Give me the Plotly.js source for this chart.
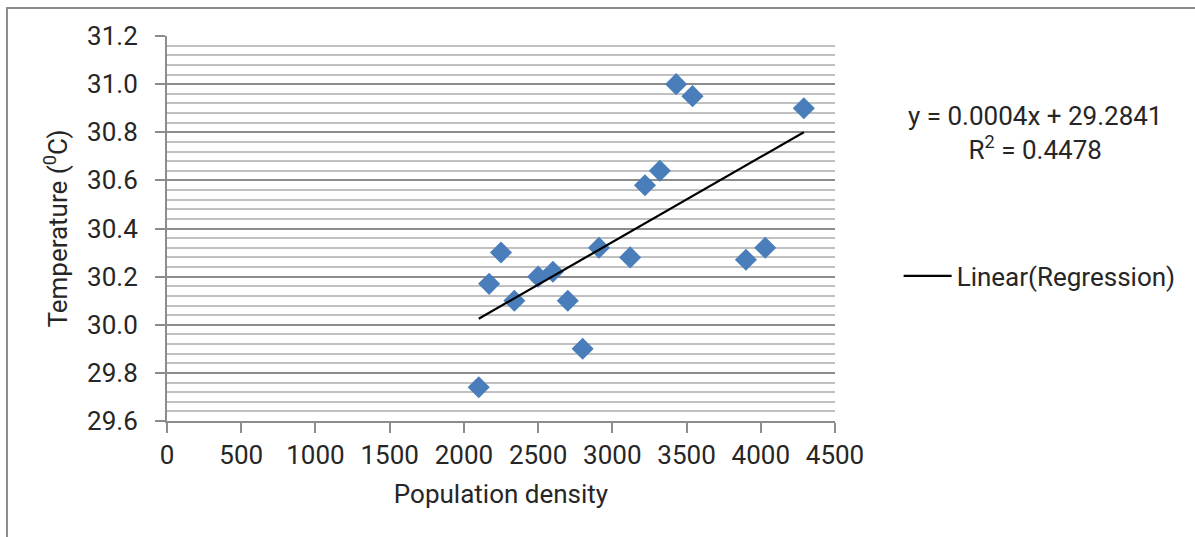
<!DOCTYPE html>
<html>
<head>
<meta charset="utf-8">
<script src="https://cdn.plot.ly/plotly-3.0.1.min.js"></script>
<style>
  html, body { margin: 0; padding: 0; background: #fff; overflow: hidden; }
  #frame { position: absolute; left: 6px; top: 7px; width: 1300px; height: 600px;
           border-left: 2px solid #8c8c8c; border-top: 2px solid #8c8c8c; }
  #chart { position: absolute; left: 0; top: 0; width: 1195px; height: 537px; }
</style>
</head>
<body>
<div id="frame"></div>
<div id="chart"></div>
<script>
// Data
const popDensity = [2100, 2170, 2250, 2340, 2500, 2600, 2700, 2800, 2910, 3120, 3220, 3320, 3430, 3540, 3900, 4030, 4290];
const temperature = [29.74, 30.17, 30.30, 30.10, 30.20, 30.22, 30.10, 29.90, 30.32, 30.28, 30.58, 30.64, 31.00, 30.95, 30.27, 30.32, 30.90];
const trendX = [2100, 4290];
const trendY = [30.025, 30.80];
const equationText = 'y = 0.0004x + 29.2841<br>R<sup>2</sup> = 0.4478';
const xTitle = 'Population density';
const yTitle = 'Temperature (<sup>0</sup>C)';
const legendName = 'Linear(Regression)';

const FONT = 'Roboto, "Liberation Sans", Arial, sans-serif';
const TXT = '#262626';
const FS = 26;

const traces = [
  {
    type: 'scatter', mode: 'markers', x: popDensity, y: temperature,
    marker: { symbol: 'diamond', size: 17, color: '#4a7ebb', line: { width: 0 } },
    showlegend: false, hoverinfo: 'x+y'
  },
  {
    type: 'scatter', mode: 'lines', x: trendX, y: trendY, name: legendName,
    line: { color: '#000000', width: 2.2 }
  }
];

const layout = {
  width: 1195, height: 537,
  margin: { l: 167, r: 360, t: 36, b: 116, pad: 0 },
  paper_bgcolor: 'rgba(0,0,0,0)', plot_bgcolor: '#ffffff',
  font: { family: FONT, size: FS, color: TXT },
  xaxis: {
    range: [0, 4500], dtick: 500, tick0: 0, showgrid: false, zeroline: false,
    showline: true, linecolor: '#8c8c8c', linewidth: 2,
    ticks: 'outside', ticklen: 10, tickwidth: 2, tickcolor: '#8c8c8c',
    tickfont: { family: FONT, size: FS, color: TXT },
    title: { text: xTitle, font: { family: FONT, size: FS, color: TXT }, standoff: 16 }
  },
  yaxis: {
    range: [29.6, 31.2], dtick: 0.2, tick0: 29.6, tickformat: '.1f',
    showgrid: true, gridcolor: '#8c8c8c', gridwidth: 2, zeroline: false,
    showline: true, linecolor: '#8c8c8c', linewidth: 2,
    ticks: 'outside', ticklen: 10, tickwidth: 2, tickcolor: '#8c8c8c',
    ticklabelstandoff: 12,
    tickfont: { family: FONT, size: FS, color: TXT },
    minor: { dtick: 0.04, tick0: 29.6, showgrid: true, gridcolor: '#c0c0c0', gridwidth: 2, ticks: '' },
    title: { text: yTitle, font: { family: FONT, size: FS, color: TXT }, standoff: 12 }
  },
  legend: {
    xref: 'container', yref: 'container', x: 0.752, y: 0.486,
    xanchor: 'left', yanchor: 'middle', bgcolor: 'rgba(0,0,0,0)',
    itemwidth: 48, font: { family: FONT, size: FS, color: TXT }
  },
  annotations: [{
    xref: 'paper', yref: 'paper', x: 1.299, y: 0.748, xanchor: 'center', yanchor: 'middle',
    text: equationText, showarrow: false, align: 'center',
    font: { family: FONT, size: FS, color: TXT }
  }],
  hovermode: 'closest'
};

Plotly.newPlot('chart', traces, layout, { displayModeBar: false });
</script>
</body>
</html>
